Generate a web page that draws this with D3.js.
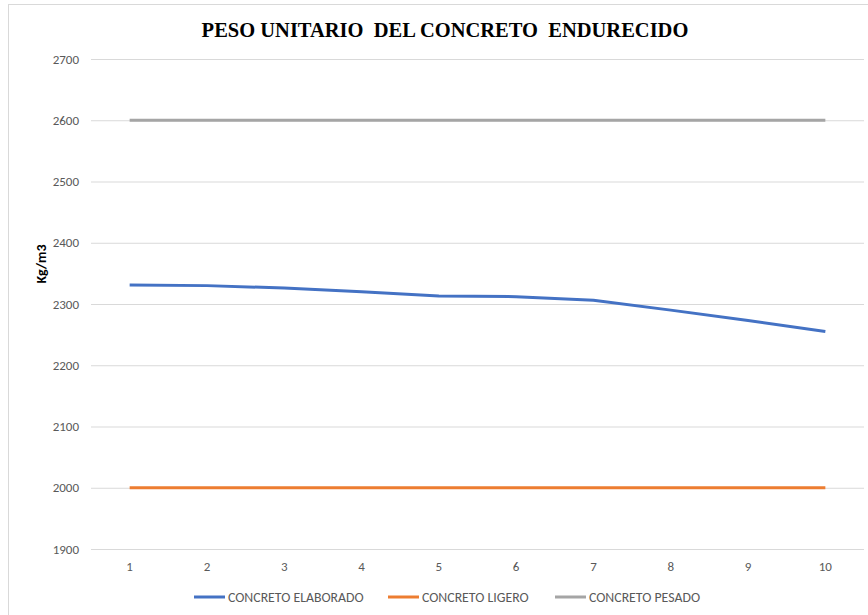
<!DOCTYPE html>
<html>
<head>
<meta charset="utf-8">
<script src="https://cdn.jsdelivr.net/npm/d3@7"></script>
<style>
  body { margin: 0; background: #fff; }
  text { font-family: Calibri, "Liberation Sans", Arial, sans-serif; }
</style>
</head>
<body>
<div id="chart"></div>
<script>
// data
var categories = [1, 2, 3, 4, 5, 6, 7, 8, 9, 10];
var elaborado = [2331, 2330, 2326, 2320, 2313, 2312, 2306, 2290, 2273, 2255];
var ligero = [2000, 2000, 2000, 2000, 2000, 2000, 2000, 2000, 2000, 2000];
var pesado = [2600, 2600, 2600, 2600, 2600, 2600, 2600, 2600, 2600, 2600];
var yTicks = [1900, 2000, 2100, 2200, 2300, 2400, 2500, 2600, 2700];
var seriesNames = ["CONCRETO ELABORADO", "CONCRETO LIGERO", "CONCRETO PESADO"];
var seriesColors = ["#4472c4", "#ed7d31", "#a5a5a5"];

var W = 868, H = 615;
var margin = {left: 91, right: 4, top: 59, bottom: 66};

var svg = d3.select("#chart").append("svg")
  .attr("width", W).attr("height", H);

// chart frame
svg.append("rect")
  .attr("x", 8.5).attr("y", 4.5)
  .attr("width", W + 10).attr("height", H + 10)
  .attr("fill", "#fff").attr("stroke", "#d9d9d9");

var x = d3.scaleBand().domain(categories)
  .range([margin.left, W - margin.right]);
var y = d3.scaleLinear().domain([1900, 2700])
  .range([H - margin.bottom, margin.top]);

// gridlines
svg.append("g").selectAll("line").data(yTicks).enter().append("line")
  .attr("x1", margin.left).attr("x2", W - margin.right)
  .attr("y1", function(d){ return y(d) + 0.5; })
  .attr("y2", function(d){ return y(d) + 0.5; })
  .attr("stroke", "#d9d9d9").attr("stroke-width", 1);

// y axis labels
var yAxis = d3.axisLeft(y).tickValues(yTicks).tickSize(0).tickPadding(12)
  .tickFormat(d3.format("d"));
var gy = svg.append("g").attr("transform", "translate(" + margin.left + ",0)").call(yAxis);
gy.select(".domain").remove();
gy.selectAll("text").attr("font-size", 13).attr("fill", "#595959")
  .style("font-family", "Calibri, 'Liberation Sans', Arial, sans-serif");

// x axis labels
var xAxis = d3.axisBottom(x).tickSize(0).tickPadding(13);
var gx = svg.append("g").attr("transform", "translate(0," + (H - margin.bottom) + ")").call(xAxis);
gx.select(".domain").remove();
gx.selectAll("text").attr("font-size", 13).attr("fill", "#595959")
  .style("font-family", "Calibri, 'Liberation Sans', Arial, sans-serif");

// title
svg.append("text")
  .attr("x", 445).attr("y", 37)
  .attr("text-anchor", "middle")
  .style("font-family", "'Liberation Serif', 'Times New Roman', serif")
  .style("white-space", "pre")
  .attr("font-weight", "bold").attr("font-size", 20.5)
  .attr("fill", "#000")
  .text("PESO UNITARIO  DEL CONCRETO  ENDURECIDO");

// y title
svg.append("text")
  .attr("transform", "translate(46,264) rotate(-90)")
  .attr("text-anchor", "middle")
  .attr("font-weight", "bold").attr("font-size", 14)
  .attr("fill", "#000")
  .text("Kg/m3");

// lines
var line = d3.line()
  .x(function(d, i){ return x(categories[i]) + x.bandwidth() / 2; })
  .y(function(d){ return y(d); });

[pesado, ligero, elaborado].forEach(function(data, k){
  var idx = [2, 1, 0][k];
  svg.append("path").datum(data)
    .attr("d", line)
    .attr("fill", "none")
    .attr("stroke", seriesColors[idx])
    .attr("stroke-width", 3)
    .attr("stroke-linejoin", "round");
});

// legend
var legendX = [194, 388, 555];
var lg = svg.append("g").attr("transform", "translate(0,597)");
seriesNames.forEach(function(name, i){
  lg.append("line")
    .attr("x1", legendX[i]).attr("x2", legendX[i] + 31)
    .attr("y1", 0).attr("y2", 0)
    .attr("stroke", seriesColors[i]).attr("stroke-width", 3);
  lg.append("text")
    .attr("x", legendX[i] + 34).attr("y", 4.5)
    .attr("font-size", 13.8).attr("fill", "#595959")
    .text(name);
});
</script>
</body>
</html>
